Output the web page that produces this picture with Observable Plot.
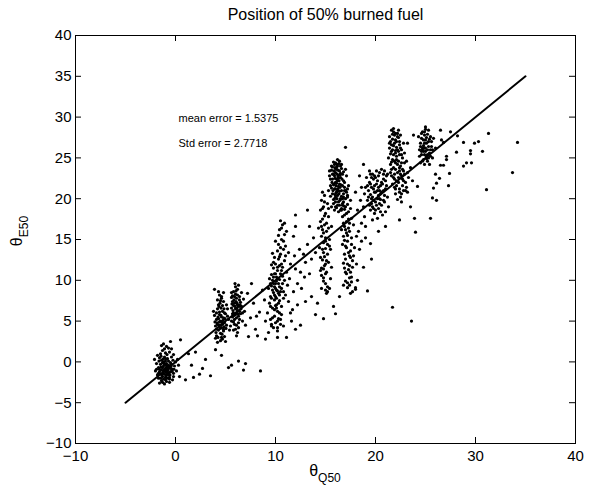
<!DOCTYPE html>
<html><head><meta charset="utf-8">
<script src="https://cdn.jsdelivr.net/npm/d3@7"></script>
<script src="https://cdn.jsdelivr.net/npm/@observablehq/plot@0.6"></script>
<style>body{margin:0;background:#fff} svg{display:block}</style>
</head><body><div id="chart"></div>
<script>
const titleText = "Position of 50% burned fuel";
const xTicks = [-10, 0, 10, 20, 30, 40];
const yTicks = [-10, -5, 0, 5, 10, 15, 20, 25, 30, 35, 40];
const refLineQ = [-5, 35];
const refLineE = [-5, 35];
const notes = ["mean error = 1.5375", "Std error = 2.7718"];
const notesQ = [0.3, 0.3];
const notesE = [29.8, 26.8];

// [θQ50, θE50] pairs, grouped by cluster
const clusterA = [
[-1.0,-0.8],[-1.2,-0.5],[-0.8,-1.1],[-1.4,-1.0],[-0.6,-0.6],[-1.1,-1.5],[-0.9,-0.2],[-1.5,-0.3],[-0.7,-1.6],[-1.3,-1.8],
[-0.5,-1.2],[-1.0,0.1],[-1.6,-1.2],[-0.4,-0.3],[-1.2,-2.1],[-0.8,0.4],[-1.7,-0.7],[-0.3,-0.9],[-1.1,0.6],[-0.6,-1.9],
[-1.4,0.2],[-0.9,-1.3],[-1.2,-1.1],[-0.7,-0.4],[-1.0,-1.9],[-1.5,-1.5],[-0.5,-0.1],[-1.3,-0.1],[-0.8,-0.7],[-1.1,-0.3],
[-1.8,-1.6],[-0.2,-1.4],[-1.6,0.5],[-0.4,0.6],[-1.0,1.1],[-1.3,1.4],[-0.7,1.7],[-1.2,2.2],[-0.9,1.9],[-1.5,1.0],
[-0.6,1.2],[-1.9,-0.2],[-2.0,-1.1],[-0.1,-0.5],[0.1,-1.1],[-0.3,-2.2],[-0.9,-2.4],[-1.4,-2.3],[-1.1,-2.7],[-0.6,-2.5],
[-1.7,-2.0],[0.2,0.3],[-0.2,0.9],[-1.8,0.8],[-1.0,-1.2],[-0.8,-1.5],[-1.3,-0.7],[-0.5,-0.8],[-1.2,0.0],[-0.9,-0.9],
[0.4,-1.8],[0.3,-0.4],[-2.1,0.3],[-1.6,-2.6],[-0.4,1.6],[-1.1,1.6],[-0.5,2.5],[-1.4,2.0],[-0.2,-1.8],[0.0,0.0],
[-1.05,-1.0],[-0.85,-0.55],[-1.25,-1.35],[-0.65,-1.35],[-1.45,-0.65],[-0.95,-1.7],[-1.15,-0.15],[-0.75,-0.95],[-1.35,-1.55],[-0.55,-1.6],
[-1.6,-0.9],[-0.45,-0.55],[-1.0,-2.2],[-1.25,0.35],[-0.7,0.1],[-1.7,-1.4],[-0.35,-1.15],[-1.1,-0.9],[-0.9,-0.45],[-1.5,-2.0],
[-0.6,-2.1],[-1.3,-2.5],[-0.8,-2.0],[-1.9,-0.9],[-0.25,0.2],[-1.45,0.7],[-0.85,0.9],[-1.65,0.1],[-0.15,-0.9],[-1.0,0.4]
];
const scatterA = [
[0.5,2.7],[1.3,1.0],[2.0,1.2],[1.6,-0.4],[2.7,-0.8],[3.5,-1.7],[4.0,1.5],[5.3,-0.7],[5.6,-0.4],[8.5,-1.1],
[2.4,-1.5],[1.0,-2.2],[3.0,0.3],[4.6,0.8],[6.3,0.1],[7.0,-0.2],[1.8,-1.9],[6.8,-1.0]
];
const clusterB = [
[4.5,5.0],[4.2,4.6],[4.8,5.4],[4.4,5.8],[4.6,4.2],[4.1,5.2],[4.9,4.8],[4.3,3.9],[4.7,6.2],[4.0,4.4],
[5.0,5.9],[4.5,3.5],[4.2,6.5],[4.8,3.8],[4.4,4.9],[4.6,5.5],[5.1,4.5],[3.9,5.7],[4.3,7.0],[4.7,6.9],
[4.1,3.2],[4.9,3.1],[4.5,2.6],[4.2,7.6],[4.8,7.4],[4.4,8.2],[4.6,8.0],[5.2,6.5],[3.8,6.2],[5.3,5.2],
[4.0,2.9],[5.0,2.5],[4.6,3.0],[4.3,5.3],[4.7,4.6],[4.4,6.1],[4.9,6.0],[4.1,4.0],[5.4,3.9],[3.9,8.9],
[4.5,7.5],[4.2,2.4],[5.1,7.0],[4.8,8.5],
[4.35,4.5],[4.65,4.9],[4.55,5.7],[4.25,5.5],[4.75,5.1],[4.45,4.1],[4.85,4.3],[4.15,4.8],[4.55,6.6],[4.35,6.8],
[4.95,5.3],[4.05,3.6],[4.65,3.4],[4.25,3.0],[4.85,6.5],[4.45,7.2],[4.6,7.8],[4.3,8.6],[5.05,4.1],[4.7,2.8],
[3.95,4.9],[5.2,5.6],[4.5,4.5],[4.1,6.0],[4.8,4.0]
];
const clusterC = [
[6.0,6.5],[5.8,6.0],[6.2,7.0],[5.7,7.4],[6.3,5.6],[5.9,5.2],[6.1,7.8],[5.6,6.6],[6.4,6.2],[6.0,8.3],
[5.8,8.6],[6.2,8.9],[5.9,4.6],[6.3,4.8],[6.5,7.3],[5.7,5.5],[6.1,6.0],[6.6,6.8],[5.6,7.9],[6.4,8.0],
[6.0,9.2],[5.8,3.9],[6.2,3.6],[6.7,5.0],[5.5,4.4],[6.1,5.4],[6.3,9.4],[5.9,7.2],[6.5,5.9],[6.0,4.0],
[6.8,7.7],[5.7,8.1],[6.2,6.3],[5.8,6.9],[6.4,7.6],[6.9,6.2],[7.0,4.5],[5.6,5.0],[6.6,8.5],[6.1,3.2],
[5.95,6.8],[6.15,6.6],[5.85,5.7],[6.25,5.9],[6.05,7.4],[5.75,6.3],[6.35,6.8],[6.0,5.8],[5.9,8.0],[6.2,8.2],
[6.45,7.0],[5.65,7.1],[6.1,4.5],[5.8,4.9],[6.3,4.2],[6.05,8.7],[5.95,9.6],[6.55,6.5],[5.7,5.9],[6.4,5.2],
[6.15,7.2],[5.85,7.6],[6.7,6.0],[5.6,8.5],[6.25,6.9]
];
const scatterC = [
[7.5,5.4],[7.8,7.2],[8.0,4.0],[8.2,3.2],[8.4,6.1],[8.7,8.8],[9.0,5.0],[9.3,3.6],[7.6,9.6],[8.9,7.6],
[9.6,4.4],[10.2,3.0],[11.1,3.0],[7.3,3.1],[8.1,5.6],[12.0,4.0],[7.2,8.4],[9.0,2.8],[10.5,5.2],[11.5,6.0]
];
const clusterD = [
[10.0,9.0],[9.8,8.5],[10.3,9.6],[10.1,10.4],[9.7,10.0],[10.4,8.2],[9.9,7.6],[10.2,11.2],[9.6,9.3],[10.5,10.8],
[10.0,12.0],[9.8,11.5],[10.3,12.6],[10.6,9.0],[9.5,8.0],[10.1,7.0],[10.4,7.5],[9.7,6.6],[10.2,6.2],[9.9,5.6],
[10.6,6.8],[9.4,7.2],[10.0,4.8],[10.3,5.3],[9.8,4.2],[10.7,11.6],[10.5,13.2],[10.8,13.8],[10.3,14.4],[10.6,15.0],
[10.9,15.6],[10.4,16.2],[10.7,16.8],[11.0,14.2],[10.2,13.6],[10.9,12.4],[11.1,11.0],[9.6,11.9],[9.9,12.8],[10.1,9.9],
[10.4,10.1],[9.8,9.6],[10.2,8.7],[10.0,8.0],[9.6,10.7],[11.2,9.4],[11.0,8.2],[11.3,7.4],[10.8,7.8],[9.3,9.0],
[11.5,12.0],[11.4,10.2],[10.6,5.8],[9.5,5.2],[10.8,4.4],[11.6,5.0],[10.2,3.8],[9.2,6.0],[11.8,8.6],[12.0,11.4],
[10.5,17.3],[11.1,16.0],[9.7,13.3],[10.0,14.8],[11.3,13.4],[12.2,7.0],[11.7,6.4],[10.4,11.8],[9.9,10.8],[10.7,10.5],
[9.9,9.2],[10.1,8.8],[10.3,8.4],[9.7,8.8],[10.0,9.6],[10.2,10.2],[9.8,10.4],[10.4,9.2],[10.1,7.8],[9.9,8.2],
[10.3,7.2],[9.6,7.8],[10.5,8.6],[9.5,9.6],[10.0,10.8],[10.2,11.6],[9.8,12.2],[10.4,12.9],[10.6,12.0],[10.1,6.6],
[9.9,6.4],[10.4,6.0],[9.7,5.4],[10.2,5.0],[10.5,4.6],[9.6,4.6],[10.7,9.6],[10.9,10.0],[10.6,11.2],[10.8,8.6],
[9.4,10.2],[9.5,6.8],[10.3,15.5],[10.6,16.4],[10.8,14.8],[10.5,14.0],[10.9,17.0],[11.0,13.0],[10.2,4.2],[10.0,6.9]
];
const scatterD = [
[12.5,11.0],[12.8,13.2],[13.2,14.4],[13.6,12.6],[12.2,9.6],[13.8,15.2],[12.9,10.4],[13.4,10.8],[11.9,13.0],[14.0,13.4],
[12.0,16.6],[13.0,7.4]
];
const clusterE = [
[14.6,19.8],[14.8,19.0],[15.0,18.2],[14.7,17.5],[14.9,16.8],[15.1,16.0],[14.6,15.4],[14.8,14.6],[15.0,13.9],[15.2,13.2],
[14.7,12.5],[14.9,11.8],[15.1,11.0],[14.8,10.3],[15.0,9.6],[14.6,9.0],[15.2,8.6],[15.3,17.8],[14.5,18.6],[15.4,15.0],
[14.4,14.0],[15.3,12.2],[14.5,11.2],[15.5,10.2],[14.9,20.4],[15.2,19.4],[14.7,16.2],[15.0,14.8],[14.8,13.4],[15.4,9.0],
[15.1,8.4],[14.6,10.6],[15.6,16.6],[15.5,13.8],[14.3,16.4],[15.0,12.0],[14.7,20.8],[15.3,18.8],[15.6,11.6],[14.5,12.8],
[14.7,18.8],[14.9,17.9],[15.1,17.0],[14.6,16.6],[14.8,15.8],[15.0,15.2],[15.2,14.4],[14.7,13.8],[14.9,12.9],[15.1,12.4],
[14.6,11.5],[14.8,9.9],[15.0,10.8],[15.2,9.2],[14.9,19.6],[15.3,16.4],[14.5,17.2],[15.0,8.8],[14.8,11.4],[15.4,14.2]
];
const clusterF = [
[16.0,22.0],[16.3,21.5],[15.8,23.0],[16.5,22.6],[16.1,20.8],[15.9,21.2],[16.4,23.4],[16.2,24.0],[15.7,22.4],[16.6,21.0],
[16.0,20.2],[16.3,19.6],[15.8,19.9],[16.5,20.0],[16.1,23.8],[15.6,23.5],[16.7,23.0],[16.2,22.2],[15.9,22.8],[16.4,21.8],
[16.8,22.2],[15.5,21.6],[16.0,24.4],[16.6,24.2],[15.7,20.6],[16.9,21.4],[16.2,19.2],[15.6,24.0],[16.4,24.6],[17.0,23.6],
[15.9,18.6],[16.3,18.4],[16.7,19.4],[15.4,22.8],[16.1,21.9],[16.5,23.1],[15.8,21.7],[16.2,20.4],[17.1,22.8],[16.0,23.2],
[15.5,20.3],[16.8,20.6],[16.3,22.9],[15.9,24.2],[16.6,18.8],[17.2,20.2],[15.3,21.0],[16.0,19.0],[16.4,20.9],[15.7,23.9],
[16.05,21.6],[16.25,21.2],[15.95,22.5],[16.35,22.2],[16.15,23.0],[15.85,21.8],[16.45,22.9],[16.05,23.6],[16.35,20.6],[15.75,21.0],
[16.55,21.7],[16.15,20.0],[15.95,20.5],[16.45,19.8],[16.25,23.5],[15.85,23.4],[16.65,22.4],[16.0,21.2],[16.3,22.5],[15.65,22.0],
[16.7,21.6],[16.15,24.2],[15.8,24.5],[16.5,24.0],[16.0,19.6],[16.4,19.2],[15.6,21.3],[16.8,23.3],[16.2,21.0],[16.1,22.4],
[15.9,20.0],[16.6,20.3],[15.7,23.0],[16.35,24.3],[16.9,22.0],[15.5,22.4],[16.1,18.9],[16.5,18.6],[15.8,19.4],[16.7,20.0],
[16.25,22.7],[15.95,23.8],[16.45,21.4],[16.05,20.7],[17.0,21.0],[15.4,23.4],[16.6,23.7],[16.2,24.8],[15.6,19.0],[16.85,19.1]
];
const clusterG = [
[16.9,21.0],[17.2,20.4],[16.8,19.6],[17.0,19.0],[17.3,18.4],[16.7,17.8],[17.1,17.2],[16.9,16.6],[17.4,16.0],[16.8,15.4],
[17.2,14.8],[17.0,14.2],[17.5,13.6],[17.3,13.4],[17.8,13.0],[17.0,12.6],[17.7,12.4],[16.8,12.1],[17.7,11.6],[17.3,11.3],
[17.0,11.0],[17.5,11.0],[17.4,10.3],[17.2,9.7],[16.8,9.4],[17.2,9.1],[18.0,9.1],[18.0,8.9],[17.5,8.4],[19.2,8.7],
[17.6,17.6],[16.6,18.6],[17.5,19.8],[16.9,18.0],[17.1,15.8],[17.6,15.2],[16.7,14.4],[17.9,14.0],[17.1,20.8],[16.6,16.2],
[17.4,17.0],[16.8,20.2],[17.3,21.6],[17.8,16.8],[18.1,12.0],[16.9,13.2],[17.6,10.4],[18.2,10.0],
[17.0,20.0],[17.2,19.3],[16.9,18.7],[17.1,18.2],[17.3,17.5],[16.8,17.0],[17.0,16.2],[17.2,15.5],[16.9,14.9],[17.1,14.0],
[17.4,13.0],[17.2,12.0],[17.5,12.8],[16.9,11.5],[17.4,11.8],[17.1,10.8],[17.6,9.8],[17.0,9.9],[17.4,9.4],[17.7,8.6],
[16.7,19.2],[17.5,18.8],[17.3,16.4],[17.6,14.4],[17.2,21.2]
];
const scatterG = [
[18.2,18.6],[18.5,19.8],[18.0,20.8],[18.3,16.0],[18.6,14.8],[18.9,17.8],[18.1,15.4],[19.0,16.6]
];
const clusterH = [
[19.5,20.5],[19.8,21.2],[20.2,20.0],[20.5,21.6],[19.4,22.0],[20.0,22.6],[20.8,22.4],[19.6,19.4],[20.3,18.8],[20.9,19.6],
[19.9,18.2],[20.6,20.8],[19.3,21.0],[21.0,21.2],[20.1,21.8],[19.7,23.0],[20.4,23.2],[21.1,22.8],[19.5,18.6],[20.7,18.0],
[20.0,19.6],[19.6,20.0],[20.4,19.4],[21.2,20.2],[19.2,19.8],[20.9,23.4],[19.8,22.4],[20.3,21.4],[19.4,23.4],[20.6,22.0],
[21.3,19.0],[19.1,22.6],[20.2,17.6],[19.7,17.4],[20.8,21.0],[19.9,20.8],[20.5,19.9],[21.0,18.4],[18.9,20.6],[18.8,19.0],
[19.7,20.2],[20.0,20.8],[20.3,20.4],[19.9,21.6],[20.2,22.2],[19.6,21.4],[20.5,20.6],[20.7,21.8],[19.8,19.8],[20.1,19.2],
[20.4,20.0],[19.5,21.8],[20.6,19.2],[19.9,22.8],[20.3,22.8],[20.8,23.0],[19.6,22.6],[20.0,18.6],[20.5,18.4],[19.3,20.2],
[20.9,20.4],[21.1,21.6],[19.4,19.2],[20.1,23.4],[19.8,18.8],[20.6,23.6],[21.0,22.2],[19.2,21.6],[20.4,21.0],[19.7,19.0],
[20.8,19.8],[20.2,21.0],[19.5,23.0],[21.2,23.0],[19.0,21.4]
];
const clusterI = [
[21.8,26.5],[22.0,27.2],[21.6,25.8],[22.2,26.0],[21.9,27.8],[21.5,27.0],[22.3,27.5],[21.7,24.8],[22.1,25.2],[21.4,26.2],
[22.4,26.6],[21.8,28.2],[22.0,24.4],[22.5,24.0],[21.6,23.6],[22.2,23.2],[22.6,22.8],[21.9,22.4],[22.3,22.0],[22.7,23.6],
[22.1,21.6],[22.4,21.2],[21.7,21.8],[22.8,22.2],[22.0,20.6],[22.5,20.2],[23.0,21.0],[22.9,23.0],[21.5,24.2],[22.6,25.4],
[23.1,24.6],[21.3,25.0],[22.2,28.0],[21.6,28.4],[22.8,26.8],[23.3,22.6],[21.9,23.0],[22.4,23.8],[22.0,25.6],[21.8,22.6],
[22.7,21.6],[23.5,23.8],[22.3,24.6],[21.7,26.0],[22.1,27.0],[23.2,20.8],[22.6,19.6],[21.4,27.6],[22.9,24.4],[23.7,22.2],
[21.9,26.8],[22.1,26.3],[21.7,27.3],[22.0,25.9],[22.2,27.6],[21.6,26.6],[22.4,27.0],[21.8,25.4],[22.0,28.0],[22.3,25.8],
[21.5,25.5],[22.5,26.2],[21.9,24.6],[22.2,24.2],[22.4,23.4],[21.8,23.8],[22.6,24.4],[22.0,23.6],[22.3,22.6],[22.5,23.0],
[22.1,22.2],[22.7,22.4],[22.0,21.2],[22.4,20.8],[22.2,19.9],[21.9,21.4],[22.8,21.0],[21.7,27.9],[22.3,28.4],[21.6,24.5],
[22.6,26.0],[22.9,25.6],[21.4,26.8],[22.5,27.8],[23.0,22.0],[22.8,23.4],[21.6,22.8],[22.1,24.8],[23.2,23.2],[21.8,28.6],
[22.7,25.0],[22.4,25.4],[21.5,23.2],[23.1,21.4],[22.6,20.6]
];
const clusterJ = [
[24.8,26.5],[25.0,27.2],[24.6,25.8],[25.2,26.0],[24.9,27.8],[25.3,27.0],[24.7,28.2],[25.1,25.2],[24.5,26.8],[25.4,25.6],
[24.8,24.8],[25.0,28.5],[25.5,27.6],[24.6,27.4],[25.2,24.6],[24.9,25.4],[25.6,26.4],[24.4,25.2],[25.3,28.4],[25.7,25.0],
[24.7,26.0],[25.1,26.8],[24.5,24.4],[25.8,27.4],[24.9,26.2],[25.4,24.2],[26.0,26.2],[24.3,27.6],
[24.9,26.8],[25.1,27.5],[24.7,26.2],[25.0,25.8],[25.2,27.9],[24.8,27.2],[25.3,26.4],[24.6,25.4],[25.0,26.2],[25.4,27.3],
[24.9,28.2],[25.2,25.4],[24.7,24.6],[25.5,26.0],[24.5,26.4],[25.1,24.9],[25.3,25.0],[24.8,25.8],[25.6,27.0],[24.6,28.0],
[25.0,28.8],[25.7,26.0],[24.4,26.0],[25.5,25.2],[24.9,24.2]
];
const outliers = [
[28.2,27.7],[31.3,28.0],[34.2,26.9],[28.8,26.9],[29.9,26.8],[30.3,27.0],[30.7,25.8],[29.5,25.9],[29.5,25.5],[28.1,25.7],
[29.1,24.4],[29.6,24.4],[28.8,24.0],[27.4,23.1],[27.3,21.6],[33.7,23.2],[31.1,21.1],[26.4,22.5],[26.1,21.9],[25.8,21.3],
[25.7,20.1],[26.1,19.8],[25.5,17.6],[26.8,26.9],[27.1,25.2],[27.1,24.8],[26.5,28.4],[26.8,24.1],[26.5,24.1],[26.0,23.0],
[24.0,15.9],[21.7,6.7],[23.6,5.0],[19.5,14.5],[17.0,26.3],[12.0,18.0],[14.8,5.3],[16.0,5.9],[23.5,19.0],[24.2,21.5],
[23.9,17.6],[22.4,17.4],[21.0,16.6],[20.3,16.0],[19.0,15.2],[18.6,17.0],[18.4,22.8],[18.6,21.4],[23.2,26.8],[23.8,27.8],
[27.5,28.2],[26.6,27.2],[18.8,24.2],[13.4,16.6],[13.0,12.2],[12.6,9.0],[13.6,8.0],[12.4,13.8],[11.8,15.4],[13.2,18.6],
[15.8,6.8],[16.4,8.0],[14.0,5.8],[12.5,4.5],[14.2,7.2],[18.8,11.6],[19.6,12.6],[18.4,13.8]
];

const points = [clusterA, scatterA, clusterB, clusterC, scatterC, clusterD, scatterD, clusterE,
  clusterF, clusterG, scatterG, clusterH, clusterI, clusterJ, outliers].flat().map(([q, e]) => ({q, e}));
const refLine = refLineQ.map((q, i) => ({q, e: refLineE[i]}));
const noteData = notes.map((t, i) => ({t, q: notesQ[i], e: notesE[i]}));

const W = 615, H = 488, mL = 75, mR = 40, mT = 35, mB = 45;
const xDomain = [-10, 40], yDomain = [-10, 40];
const frameW = W - mL - mR, frameH = H - mT - mB, tickLen = 6;
// tick length expressed in data units of each scale
const tx = tickLen * (xDomain[1] - xDomain[0]) / frameW;
const ty = tickLen * (yDomain[1] - yDomain[0]) / frameH;
const font = "'Liberation Sans', Arial, Helvetica, sans-serif";

const chart = Plot.plot({
  width: W, height: H,
  marginLeft: mL, marginRight: mR, marginTop: mT, marginBottom: mB,
  style: {fontFamily: font, fontSize: "15px", color: "black", background: "white"},
  x: {domain: xDomain},
  y: {domain: yDomain},
  marks: [
    // tick labels
    Plot.axisX(xTicks, {anchor: "bottom", tickSize: 0, tickPadding: 7, label: null}),
    Plot.axisY(yTicks, {anchor: "left", tickSize: 0, tickPadding: 4, label: null}),
    // inward tick marks on all four sides
    Plot.ruleX(xTicks, {x: d => d, y1: yDomain[0], y2: yDomain[0] + ty, stroke: "black"}),
    Plot.ruleX(xTicks, {x: d => d, y1: yDomain[1], y2: yDomain[1] - ty, stroke: "black"}),
    Plot.ruleY(yTicks, {y: d => d, x1: xDomain[0], x2: xDomain[0] + tx, stroke: "black"}),
    Plot.ruleY(yTicks, {y: d => d, x1: xDomain[1], x2: xDomain[1] - tx, stroke: "black"}),
    Plot.dot(points, {x: "q", y: "e", r: 1.6, fill: "black"}),
    Plot.line(refLine, {x: "q", y: "e", stroke: "black", strokeWidth: 2}),
    Plot.text(noteData, {x: "q", y: "e", text: "t", textAnchor: "start", fontSize: 11}),
    Plot.text([titleText], {frameAnchor: "top", dy: -27, fontSize: 16}),
    Plot.frame({stroke: "black", strokeWidth: 1})
  ]
});
document.getElementById("chart").append(chart);

const svg = d3.select(chart);
const cx = mL + frameW / 2;
const cy = mT + frameH / 2;
const xl = svg.append("text").attr("x", cx).attr("y", 476).attr("text-anchor", "middle")
  .attr("font-family", font).attr("font-size", 16).attr("fill", "black");
xl.append("tspan").text("θ");
xl.append("tspan").attr("dy", 6).attr("font-size", 12).text("Q50");
const yl = svg.append("text").attr("transform", `translate(22,${cy - 8}) rotate(-90)`).attr("text-anchor", "middle")
  .attr("font-family", font).attr("font-size", 16).attr("fill", "black");
yl.append("tspan").text("θ");
yl.append("tspan").attr("dy", 6).attr("font-size", 12).text("E50");
</script>
</body></html>
